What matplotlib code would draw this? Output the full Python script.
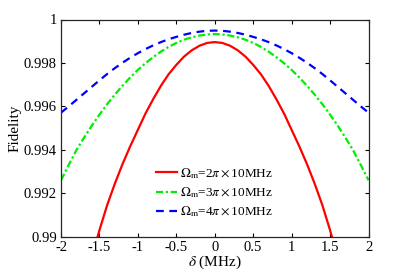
import matplotlib
matplotlib.use("Agg")
import matplotlib.pyplot as plt

plt.rcParams['font.family'] = ['Liberation Serif', 'DejaVu Serif']
plt.rcParams['mathtext.fontset'] = 'stix'

delta = [-2.0, -1.9, -1.8, -1.7, -1.6, -1.5, -1.4, -1.3, -1.2, -1.1, -1.0,
         -0.9, -0.8, -0.7, -0.6, -0.5, -0.4, -0.3, -0.2, -0.1, 0.0,
         0.1, 0.2, 0.3, 0.4, 0.5, 0.6, 0.7, 0.8, 0.9, 1.0,
         1.1, 1.2, 1.3, 1.4, 1.5, 1.6, 1.7, 1.8, 1.9, 2.0]
fid_2pi = [0.98355, 0.98500, 0.98640, 0.98775, 0.98905, 0.99030, 0.99145, 0.99244, 0.99334, 0.99416, 0.99492,
           0.99568, 0.99634, 0.99695, 0.99748, 0.99791, 0.99829, 0.99858, 0.99879, 0.99892, 0.99896,
           0.99892, 0.99879, 0.99858, 0.99829, 0.99791, 0.99748, 0.99695, 0.99634, 0.99568, 0.99492,
           0.99416, 0.99334, 0.99244, 0.99145, 0.99030, 0.98905, 0.98775, 0.98640, 0.98500, 0.98355]
fid_3pi = [0.99260, 0.99330, 0.99398, 0.99456, 0.99511, 0.99562, 0.99610, 0.99654, 0.99695, 0.99733, 0.99768,
           0.99799, 0.99827, 0.99852, 0.99874, 0.99892, 0.99907, 0.99918, 0.99926, 0.99931, 0.99933,
           0.99931, 0.99926, 0.99918, 0.99907, 0.99892, 0.99874, 0.99852, 0.99827, 0.99799, 0.99768,
           0.99733, 0.99695, 0.99654, 0.99610, 0.99562, 0.99511, 0.99456, 0.99398, 0.99330, 0.99260]
fid_4pi = [0.99571, 0.99600, 0.99630, 0.99660, 0.99690, 0.99720, 0.99749, 0.99776, 0.99801, 0.99824, 0.99845,
           0.99864, 0.99881, 0.99896, 0.99909, 0.99920, 0.99930, 0.99938, 0.99944, 0.99948, 0.99949,
           0.99948, 0.99944, 0.99938, 0.99930, 0.99920, 0.99909, 0.99896, 0.99881, 0.99864, 0.99845,
           0.99824, 0.99801, 0.99776, 0.99749, 0.99720, 0.99690, 0.99660, 0.99630, 0.99600, 0.99571]
labels = [r'$\Omega_{\rm m}$=2$\pi\times$10MHz',
          r'$\Omega_{\rm m}$=3$\pi\times$10MHz',
          r'$\Omega_{\rm m}$=4$\pi\times$10MHz']
xticks = [-2, -1.5, -1, -0.5, 0, 0.5, 1, 1.5, 2]
xticklabels = ['-2', '-1.5', '-1', '-0.5', '0', '0.5', '1', '1.5', '2']
yticks = [0.99, 0.992, 0.994, 0.996, 0.998, 1.0]
yticklabels = ['0.99', '0.992', '0.994', '0.996', '0.998', '1']

fig = plt.figure(figsize=(4.09, 2.73), dpi=100)
ax = fig.add_axes([61/409, 1-236.7/273, (368.5-61)/409, (236.7-19.5)/273])

ax.plot(delta, fid_2pi, color='#ff0000', lw=1.6, ls='-', label=labels[0])
ax.plot(delta, fid_3pi, color='#00ee00', lw=1.6, ls=(0, (3.2, 1.2, 1.0, 1.2)), label=labels[1])
ax.plot(delta, fid_4pi, color='#0000ff', lw=1.6, ls=(0, (3.5, 2.5)), label=labels[2])

ax.set_xlim(-2, 2)
ax.set_ylim(0.99, 1.0)
ax.set_xticks(xticks)
ax.set_xticklabels(xticklabels)
ax.set_yticks(yticks)
ax.set_yticklabels(yticklabels)
ax.tick_params(direction='in', top=True, right=True, length=3, width=0.8,
               labelsize=10.5, pad=3)
for s in ax.spines.values():
    s.set_linewidth(0.9)
    s.set_color('#262626')
ax.set_xlabel(r'$\delta$ (MHz)', fontsize=11, labelpad=0)
ax.set_ylabel('Fidelity', fontsize=11, labelpad=2)

leg = ax.legend(loc='lower left', bbox_to_anchor=(0.293, 0.055), frameon=False,
                fontsize=9.5, handlelength=1.6, handletextpad=0.2,
                labelspacing=0.35, borderaxespad=0)

fig.savefig('out.png', dpi=100)
